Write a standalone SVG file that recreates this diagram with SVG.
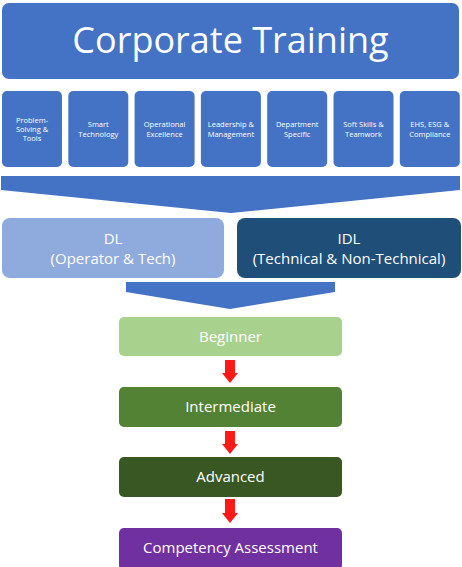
<svg xmlns="http://www.w3.org/2000/svg" width="462" height="567" viewBox="0 0 462 567">
<style>
  text { font-family: "Open Sans", "Liberation Sans", sans-serif; fill: #ffffff; text-anchor: middle; }
  .cat rect { fill: #4472C4; }
  .cat text { font-size: 7.5px; }
  .lvl text { font-size: 15px; }
  .arrow { fill: #FF1A1A; }
  .chev { fill: #4472C4; }
</style>
<rect width="462" height="567" fill="#ffffff"/>
<g id="title">
  <rect x="2" y="3" width="457" height="76" rx="7" fill="#4472C4"/>
  <text x="230.5" y="53" style="font-size:36px">Corporate Training</text>
</g>
<g id="cat1" class="cat"><rect x="2" y="91" width="60" height="76" rx="5"/>
  <text x="32" y="123">Problem-</text><text x="32" y="132">Solving &amp;</text><text x="32" y="141">Tools</text></g>
<g id="cat2" class="cat"><rect x="68.3" y="91" width="60" height="76" rx="5"/>
  <text x="98.3" y="126.5">Smart</text><text x="98.3" y="136.5">Technology</text></g>
<g id="cat3" class="cat"><rect x="134.6" y="91" width="60" height="76" rx="5"/>
  <text x="164.6" y="126.5">Operational</text><text x="164.6" y="136.5">Excellence</text></g>
<g id="cat4" class="cat"><rect x="200.9" y="91" width="60" height="76" rx="5"/>
  <text x="230.9" y="126.5">Leadership &amp;</text><text x="230.9" y="136.5">Management</text></g>
<g id="cat5" class="cat"><rect x="267.2" y="91" width="60" height="76" rx="5"/>
  <text x="297.2" y="126.5">Department</text><text x="297.2" y="136.5">Specific</text></g>
<g id="cat6" class="cat"><rect x="333.5" y="91" width="60" height="76" rx="5"/>
  <text x="363.5" y="126.5">Soft Skills &amp;</text><text x="363.5" y="136.5">Teamwork</text></g>
<g id="cat7" class="cat"><rect x="399.8" y="91" width="60" height="76" rx="5"/>
  <text x="429.8" y="126.5">EHS, ESG &amp;</text><text x="429.8" y="136.5">Compliance</text></g>
<g id="connectors">
  <polygon class="chev" points="1,176 460,176 460,190 231,213 1,190"/>
  <polygon class="chev" points="126,282 335,282 335,292 230,309 126,292"/>
  <polygon class="arrow" points="225,360 235,360 235,373 238,373 230,383 222,373 225,373"/>
  <polygon class="arrow" points="225,431 235,431 235,444 238,444 230,454 222,444 225,444"/>
  <polygon class="arrow" points="225,499 235,499 235,513 238,513 230,523 222,513 225,513"/>
</g>
<g id="dl" class="lvl">
  <rect x="2" y="218" width="222" height="60" rx="8" fill="#8FAADC"/>
  <text x="113" y="244">DL</text>
  <text x="113" y="264">(Operator &amp; Tech)</text>
</g>
<g id="idl" class="lvl">
  <rect x="237" y="218" width="224" height="60" rx="8" fill="#1F4E79"/>
  <text x="349" y="244">IDL</text>
  <text x="349" y="264">(Technical &amp; Non-Technical)</text>
</g>
<g id="beginner" class="lvl">
  <rect x="119" y="317" width="223" height="39" rx="5" fill="#A9D18E"/>
  <text x="230.5" y="342">Beginner</text>
</g>
<g id="intermediate" class="lvl">
  <rect x="119" y="387" width="223" height="40" rx="5" fill="#548235"/>
  <text x="230.5" y="412">Intermediate</text>
</g>
<g id="advanced" class="lvl">
  <rect x="119" y="457" width="223" height="40" rx="5" fill="#385723"/>
  <text x="230.5" y="482">Advanced</text>
</g>
<g id="competency" class="lvl">
  <rect x="119" y="528" width="223" height="42" rx="5" fill="#7030A0"/>
  <text x="230.5" y="553">Competency Assessment</text>
</g>
</svg>
